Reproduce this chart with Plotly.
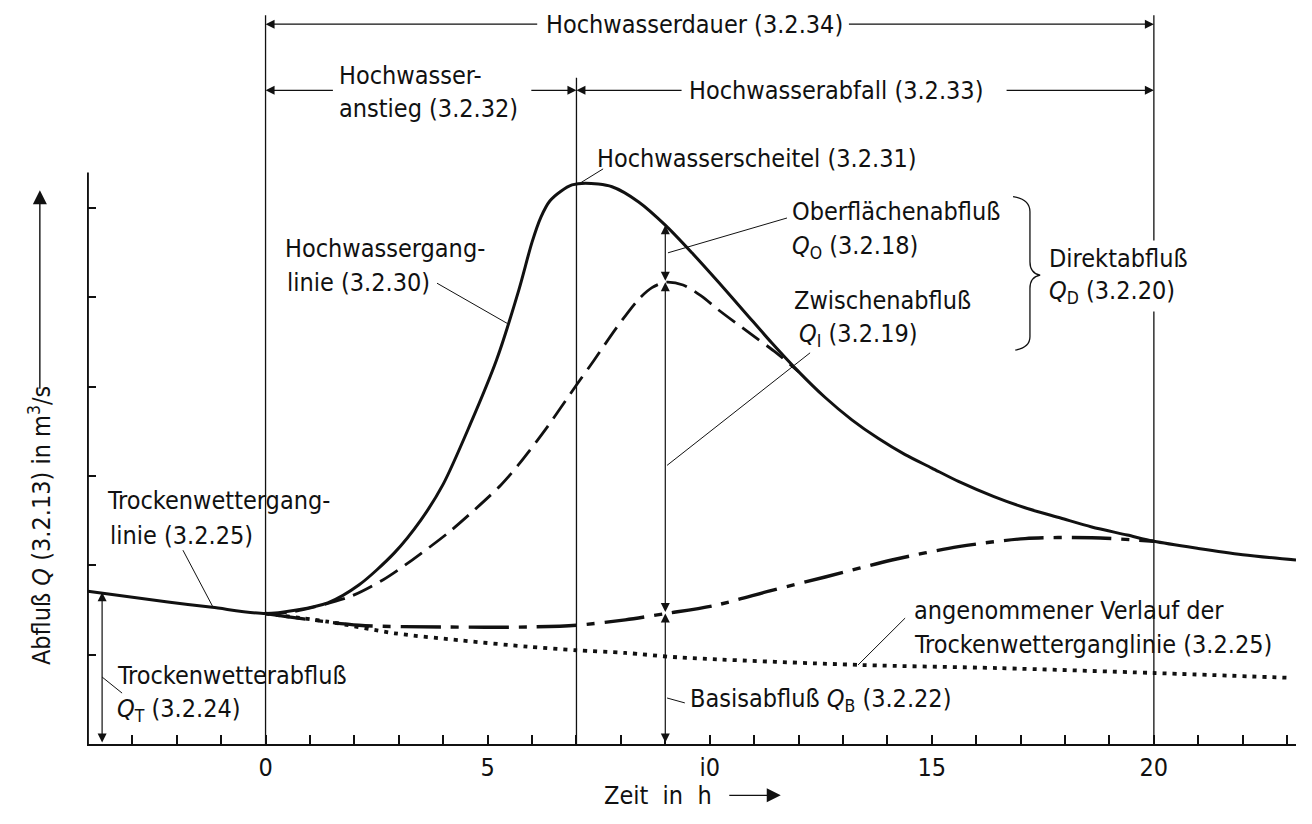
import plotly.graph_objects as go

# ---------------- data (time in h, discharge in tick units) ----------------
hw_t = [-4.0, -2.2, -1.2, 0.0, 0.7, 1.4, 2.1, 2.9, 3.5, 4.0, 4.6, 5.2, 5.7, 6.0, 6.2, 6.4, 6.65,
        6.9, 7.2, 7.8, 8.4, 9.0, 9.6, 10.2, 10.8, 11.4, 12.0, 12.6, 13.2, 13.8, 14.4, 15.0, 15.6,
        16.4, 17.1, 17.9, 18.6, 19.4, 20.0, 21.0, 22.0, 23.2]
hw_q = [1.71, 1.59, 1.53, 1.46, 1.50, 1.58, 1.78, 2.14, 2.51, 2.91, 3.57, 4.30, 5.08, 5.62, 5.90, 6.08, 6.19,
        6.26, 6.28, 6.24, 6.07, 5.81, 5.50, 5.17, 4.83, 4.49, 4.17, 3.88, 3.63, 3.42, 3.24, 3.09, 2.94,
        2.77, 2.645, 2.53, 2.43, 2.34, 2.27, 2.19, 2.12, 2.06]

zw_t = [0.0, 0.6, 1.9, 2.65, 3.3, 4.1, 4.7, 5.3, 5.7, 6.3, 7.0, 7.4, 7.9, 8.4, 8.7, 9.0, 9.4,
        9.8, 10.2, 10.9, 11.5, 12.0]
zw_q = [1.46, 1.48, 1.65, 1.84, 2.06, 2.36, 2.62, 2.90, 3.13, 3.52, 4.02, 4.30, 4.66, 4.98, 5.11, 5.17, 5.14,
        5.02, 4.86, 4.60, 4.38, 4.17]

bas_t = [0.0, 2.1, 4.1, 5.9, 7.0, 8.1, 9.0, 10.1, 11.4, 12.6, 14.1, 15.6, 17.1, 18.6, 20.0]
bas_q = [1.46, 1.33, 1.31, 1.31, 1.33, 1.39, 1.46, 1.55, 1.72, 1.87, 2.06, 2.21, 2.30, 2.31, 2.27]

tw_t = [0.0, 1.4, 2.9, 4.4, 5.9, 7.0, 8.1, 9.3, 13.4, 16.5, 20.0, 23.1]
tw_q = [1.46, 1.37, 1.24, 1.16, 1.09, 1.05, 1.02, 0.97, 0.885, 0.85, 0.795, 0.74]

x_ticks = list(range(-3, 24))
x_tick_text = {0: "0", 5: "5", 10: "i0", 15: "15", 20: "20"}
y_ticks = [1, 2, 3, 4, 5, 6]

# key times
t_start, t_peak, t_mid, t_end = 0, 7, 9, 20

FONT = "DejaVu Sans Condensed, Liberation Sans Narrow, DejaVu Sans, sans-serif"
FS = 25
BLACK = "#111111"

fig = go.Figure()
fig.add_trace(go.Scatter(x=tw_t, y=tw_q, mode="lines", line=dict(color=BLACK, width=3.8, dash="4px,6px", shape="spline", smoothing=0.8), hoverinfo="skip"))
fig.add_trace(go.Scatter(x=bas_t, y=bas_q, mode="lines", line=dict(color=BLACK, width=3.4, dash="40px,10px,8px,10px", shape="spline", smoothing=0.8), hoverinfo="skip"))
fig.add_trace(go.Scatter(x=zw_t, y=zw_q, mode="lines", line=dict(color=BLACK, width=2.8, dash="21px,9px", shape="spline", smoothing=0.8), hoverinfo="skip"))
fig.add_trace(go.Scatter(x=hw_t, y=hw_q, mode="lines", line=dict(color=BLACK, width=3.0, shape="spline", smoothing=0.8), hoverinfo="skip"))

shapes = []
def line(x0, y0, x1, y1, w=1.2):
    shapes.append(dict(type="line", xref="x", yref="y", x0=x0, y0=y0, x1=x1, y1=y1,
                       line=dict(color=BLACK, width=w)))

# y axis line
line(-4.0, 0, -4.0, 6.4, 2)
# vertical reference lines
line(t_start, 0, t_start, 8.16, 1.3)
line(t_peak, 0, t_peak, 7.46, 1.3)
line(t_end, 0, t_end, 8.16, 1.3)
# leader lines
line(3.86, 5.16, 5.44, 4.71, 1)       # Hochwasserganglinie
line(7.08, 6.28, 7.60, 6.44, 1)       # Scheitel
line(9.06, 5.50, 11.74, 5.89, 1)      # Oberflaechenabfluss
line(9.04, 3.12, 12.26, 4.38, 1)      # Zwischenabfluss
line(9.04, 0.515, 9.44, 0.46, 1)      # Basisabfluss
line(14.4, 1.41, 13.34, 0.885, 1)     # angenommener Verlauf
line(-1.86, 2.17, -1.18, 1.53, 1)     # Trockenwetterganglinie
line(-3.68, 0.75, -3.23, 0.57, 1)     # Trockenwetterabfluss
# brace
shapes.append(dict(type="path", xref="x", yref="y",
                   path="M 16.83,6.13 Q 17.21,6.10 17.21,5.96 L 17.21,5.40 Q 17.21,5.27 17.44,5.25 "
                        "Q 17.21,5.23 17.21,5.10 L 17.21,4.56 Q 17.21,4.44 16.88,4.41",
                   line=dict(color=BLACK, width=1.3)))

ann = []
def text(s, x, y, anchor="left", bg=None):
    d = dict(text=s, x=x, y=y, xref="x", yref="y", xanchor=anchor, yanchor="middle",
             showarrow=False, font=dict(family=FONT, size=FS, color=BLACK))
    if bg:
        d.update(bgcolor=bg, borderpad=3)
    ann.append(d)

def arrow(x_head, y_head, x_tail, y_tail, both=False):
    d = dict(text="", x=x_head, y=y_head, ax=x_tail, ay=y_tail, xref="x", yref="y",
             axref="x", ayref="y", showarrow=True, arrowhead=2, arrowsize=1.5,
             arrowwidth=1.2, arrowcolor=BLACK, standoff=0, startstandoff=0)
    if both:
        d.update(arrowside="end+start", startarrowhead=2, startarrowsize=1.5)
    ann.append(d)

# dimension arrows at top
arrow(t_start, 8.06, 6.15, 8.06)
arrow(t_end, 8.06, 13.1, 8.06)
arrow(t_start, 7.32, 1.55, 7.32)
arrow(t_peak, 7.32, 5.95, 7.32)
arrow(t_peak, 7.32, 9.40, 7.32)
arrow(t_end, 7.32, 16.65, 7.32)
# vertical dimension arrows at t=9 h
arrow(t_mid, 5.81, t_mid, 5.17, both=True)
arrow(t_mid, 5.17, t_mid, 1.46, both=True)
arrow(t_mid, 1.46, t_mid, 0.0, both=True)
# Trockenwetterabfluss
arrow(-3.68, 1.70, -3.68, 0.0, both=True)

text("Hochwasserdauer (3.2.34)", 9.65, 8.06, "center", bg="white")
text("Hochwasser-", 1.61, 7.49)
text("anstieg (3.2.32)", 1.61, 7.12)
text("Hochwasserabfall (3.2.33)", 9.44, 7.32, bg="white")
text("Hochwasserscheitel (3.2.31)", 7.42, 6.56)
text("Oberflächenabfluß", 11.81, 5.96)
text("<i>Q</i><sub>O</sub> (3.2.18)", 11.81, 5.57)
text("Zwischenabfluß", 11.85, 4.97)
text("<i>Q</i><sub>I</sub> (3.2.19)", 11.96, 4.58)
text("Direktabfluß", 17.55, 5.44, bg="white")
text("<i>Q</i><sub>D</sub> (3.2.20)", 17.55, 5.06, bg="white")
text("Hochwassergang-", 0.39, 5.55)
text("linie (3.2.30)", 0.44, 5.17)
text("Trockenwettergang-", -3.61, 2.73)
text("linie (3.2.25)", -3.55, 2.34)
text("Trockenwetterabfluß", -3.39, 0.77)
text("<i>Q</i><sub>T</sub> (3.2.24)", -3.39, 0.38)
text("angenommener Verlauf der", 14.55, 1.50)
text("Trockenwetterganglinie (3.2.25)", 14.55, 1.11)
text("Basisabfluß <i>Q</i><sub>B</sub> (3.2.22)", 9.51, 0.49)

# axis titles with arrows
ann.append(dict(text="Abfluß <i>Q</i> (3.2.13) in m<sup>3</sup>/s", textangle=-90,
                x=-0.039, y=2.45, xref="paper", yref="y", xanchor="center", yanchor="middle",
                showarrow=False, font=dict(family=FONT, size=FS, color=BLACK)))
ann.append(dict(text="", x=-0.039, y=6.2, xref="paper", yref="y", ax=0, ay=200,
                showarrow=True, arrowhead=2, arrowsize=2, arrowwidth=1.4, arrowcolor=BLACK))
ann.append(dict(text="Zeit  in  h", x=8.83, y=-0.069, xref="x", yref="paper",
                xanchor="center", yanchor="middle", showarrow=False,
                font=dict(family=FONT, size=FS, color=BLACK)))
ann.append(dict(text="", x=11.6, y=-0.069, xref="x", yref="paper", ax=-53, ay=0,
                showarrow=True, arrowhead=2, arrowsize=2, arrowwidth=1.4, arrowcolor=BLACK))

fig.update_layout(
    width=1312, height=824,
    margin=dict(l=87, r=16, t=0, b=80),
    paper_bgcolor="white", plot_bgcolor="white",
    showlegend=False,
    shapes=shapes, annotations=ann,
    font=dict(family=FONT, size=FS, color=BLACK),
    xaxis=dict(range=[-4.02, 23.2], showgrid=False, zeroline=False,
               showline=True, linecolor=BLACK, linewidth=2,
               ticks="inside", ticklen=9, tickwidth=1.5, tickcolor=BLACK,
               tickvals=x_ticks, ticktext=[x_tick_text.get(t, "") for t in x_ticks],
               tickfont=dict(family=FONT, size=FS, color=BLACK)),
    yaxis=dict(range=[0, 8.331], showgrid=False, zeroline=False, showline=False,
               ticks="inside", ticklen=9, tickwidth=1.5, tickcolor=BLACK,
               tickvals=y_ticks, showticklabels=False),
)

fig.write_html("out.html")
